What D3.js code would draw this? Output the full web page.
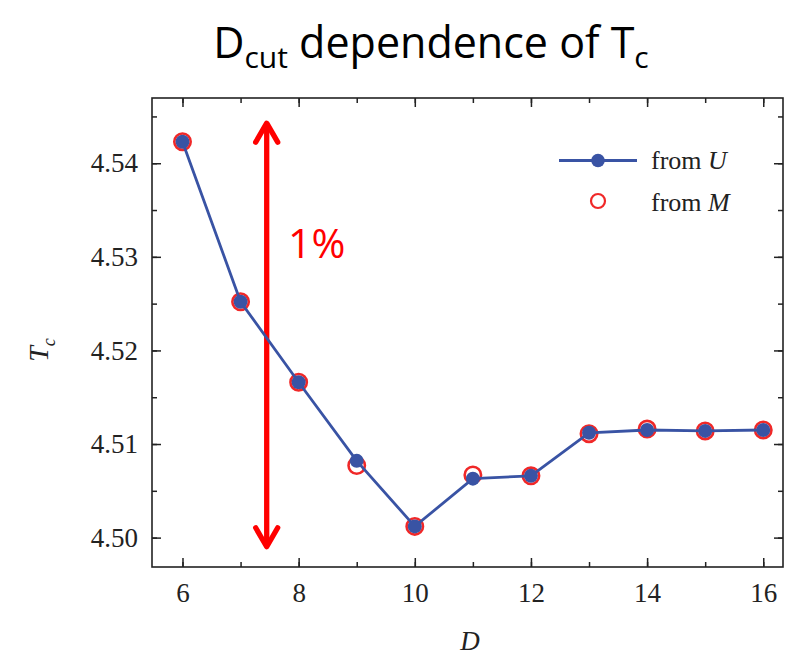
<!DOCTYPE html>
<html><head><meta charset="utf-8">
<script src="https://cdn.jsdelivr.net/npm/d3@7"></script>
<style>body{margin:0;background:#fff}svg{display:block}</style>
</head><body>
<script>
const D = [6,7,8,9,10,11,12,13,14,15,16];
const fromU = [4.5423,4.5252,4.5166,4.5082,4.5012,4.5063,4.5066,4.5112,4.5115,4.5114,4.5115];
const fromM = [4.5423,4.5252,4.5166,4.5077,4.5012,4.5067,4.5066,4.5111,4.5116,4.5114,4.5115];
const xTicks = [6,8,10,12,14,16];
const yTicks = [4.50,4.51,4.52,4.53,4.54];
const arrowD = [7.45];
const arrowRange = [4.5446,4.4987];

const W=787,H=656;
const m={l:152,r:783,t:98,b:567};
const svg=d3.select("body").append("svg").attr("width",W).attr("height",H);
const x=d3.scaleLinear().domain([5.475,16.34]).range([m.l,m.r]);
const y=d3.scaleLinear().domain([4.49686,4.54697]).range([m.b,m.t]);
const serif="'Liberation Serif','Times New Roman',serif";
const blue="#3953a4", red="#ff0000", ring="#f02828";

// title
const t=svg.append("text").attr("x",431).attr("y",58).attr("text-anchor","middle")
 .attr("font-family","'Open Sans',sans-serif").attr("font-size",43).attr("fill","#000");
t.append("tspan").text("D");
t.append("tspan").attr("font-size",30).attr("dy",10).text("cut");
t.append("tspan").attr("dy",-10).text(" dependence of T");
t.append("tspan").attr("font-size",30).attr("dy",10).text("c");

// axes (inward ticks, mirrored)
const xMinor=d3.range(6,17,1), yMinor=[4.50,4.505,4.51,4.515,4.52,4.525,4.53,4.535,4.54,4.545];
function ax(g){g.select(".domain").remove();g.selectAll("line").attr("stroke","#222").attr("stroke-width",1.5);}
svg.append("g").attr("transform",`translate(0,${m.b})`).call(d3.axisBottom(x).tickValues(xMinor).tickSize(-5).tickFormat("")).call(ax);
svg.append("g").attr("transform",`translate(0,${m.b})`).call(d3.axisBottom(x).tickValues(xTicks).tickSize(-9).tickFormat(d3.format("d")).tickPadding(16)).call(ax)
 .selectAll("text").attr("font-family",serif).attr("font-size",27).attr("fill","#222");
svg.append("g").attr("transform",`translate(0,${m.t})`).call(d3.axisTop(x).tickValues(xMinor).tickSize(-5).tickFormat("")).call(ax);
svg.append("g").attr("transform",`translate(0,${m.t})`).call(d3.axisTop(x).tickValues(xTicks).tickSize(-9).tickFormat("")).call(ax);
svg.append("g").attr("transform",`translate(${m.l},0)`).call(d3.axisLeft(y).tickValues(yMinor).tickSize(-5).tickFormat("")).call(ax);
svg.append("g").attr("transform",`translate(${m.l},0)`).call(d3.axisLeft(y).tickValues(yTicks).tickSize(-9).tickFormat(d3.format(".2f")).tickPadding(14)).call(ax)
 .selectAll("text").attr("font-family",serif).attr("font-size",27).attr("fill","#222");
svg.append("g").attr("transform",`translate(${m.r},0)`).call(d3.axisRight(y).tickValues(yMinor).tickSize(-5).tickFormat("")).call(ax);
svg.append("g").attr("transform",`translate(${m.r},0)`).call(d3.axisRight(y).tickValues(yTicks).tickSize(-9).tickFormat("")).call(ax);
svg.append("rect").attr("x",m.l).attr("y",m.t).attr("width",m.r-m.l).attr("height",m.b-m.t)
 .attr("fill","none").attr("stroke","#222").attr("stroke-width",1.6);

// axis titles
svg.append("text").attr("transform","translate(48,350) rotate(-90)").attr("text-anchor","middle")
 .attr("font-family",serif).attr("font-style","italic").attr("font-size",28).attr("fill","#222")
 .html("T<tspan font-size='18' dy='7'>c</tspan>");
svg.append("text").attr("x",470).attr("y",650).attr("text-anchor","middle")
 .attr("font-family",serif).attr("font-style","italic").attr("font-size",27).attr("fill","#222").text("D");

// arrow
const ax0=x(arrowD[0]), yTop=y(arrowRange[0]), yBot=y(arrowRange[1]);
const aStyle=s=>s.attr("fill","none").attr("stroke",red).attr("stroke-width",5.3).attr("stroke-linecap","round").attr("stroke-linejoin","round");
svg.append("line").attr("x1",ax0).attr("x2",ax0).attr("y1",yTop+4).attr("y2",yBot-4).call(aStyle).attr("stroke-linecap","butt");
svg.append("path").attr("d",`M${ax0-11},${yTop+22}L${ax0},${yTop+3}L${ax0+11},${yTop+22}`).call(aStyle);
svg.append("path").attr("d",`M${ax0-11},${yBot-22}L${ax0},${yBot-3}L${ax0+11},${yBot-22}`).call(aStyle);
svg.append("text").attr("x",288).attr("y",258).attr("font-family","'Open Sans',sans-serif").attr("font-size",41).attr("fill",red).text("1%");

// data
svg.append("g").selectAll("circle").data(D).join("circle")
 .attr("cx",d=>x(d)).attr("cy",(d,i)=>y(fromM[i])).attr("r",8.2)
 .attr("fill","none").attr("stroke",ring).attr("stroke-width",2.6);
svg.append("path").datum(D).attr("fill","none").attr("stroke",blue).attr("stroke-width",2.8)
 .attr("d",d3.line().x(d=>x(d)).y((d,i)=>y(fromU[i])));
svg.append("g").selectAll("circle").data(D).join("circle")
 .attr("cx",d=>x(d)).attr("cy",(d,i)=>y(fromU[i])).attr("r",7).attr("fill",blue);

// legend
svg.append("line").attr("x1",559).attr("x2",637).attr("y1",160.5).attr("y2",160.5).attr("stroke",blue).attr("stroke-width",2.8);
svg.append("circle").attr("cx",598).attr("cy",160.5).attr("r",6.8).attr("fill",blue);
svg.append("circle").attr("cx",598).attr("cy",201).attr("r",7).attr("fill","none").attr("stroke",ring).attr("stroke-width",2.2);
svg.append("text").attr("x",651).attr("y",169).attr("font-family",serif).attr("font-size",26).attr("fill","#222")
 .html("from <tspan font-style='italic'>U</tspan>");
svg.append("text").attr("x",651).attr("y",211).attr("font-family",serif).attr("font-size",26).attr("fill","#222")
 .html("from <tspan font-style='italic'>M</tspan>");
</script>
</body></html>
